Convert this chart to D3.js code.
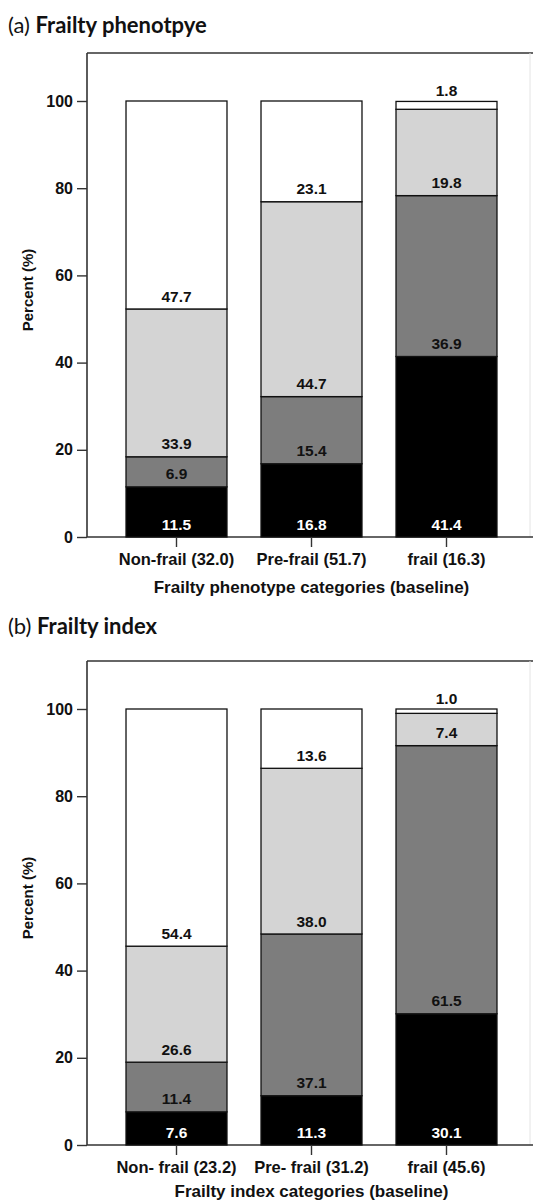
<!DOCTYPE html>
<html>
<head>
<meta charset="utf-8">
<script src="https://cdn.jsdelivr.net/npm/d3@7"></script>
<style>
  html, body { margin: 0; padding: 0; background: #fff; }
  svg { display: block; }
</style>
</head>
<body>
<svg id="chart" width="533" height="1204"></svg>
<script>
// ---- Data ----
const phenotypeCategories = ["Non-frail (32.0)", "Pre-frail (51.7)", "frail (16.3)"];
const phenotypeLevel1 = [11.5, 16.8, 41.4];   // black (bottom)
const phenotypeLevel2 = [6.9, 15.4, 36.9];    // dark grey
const phenotypeLevel3 = [33.9, 44.7, 19.8];   // light grey
const phenotypeLevel4 = [47.7, 23.1, 1.8];    // white (top)

const indexCategories = ["Non- frail (23.2)", "Pre- frail (31.2)", "frail (45.6)"];
const indexLevel1 = [7.6, 11.3, 30.1];
const indexLevel2 = [11.4, 37.1, 61.5];
const indexLevel3 = [26.6, 38.0, 7.4];
const indexLevel4 = [54.4, 13.6, 1.0];

const yTicks = [0, 20, 40, 60, 80, 100];
const levelKeys = ["l1", "l2", "l3", "l4"];
const levelColors = ["#000000", "#7d7d7d", "#d4d4d4", "#ffffff"];
const labelColors = ["#ffffff", "#111111", "#111111", "#111111"];

const panels = [
  { tag: "(a) ", title: "Frailty phenotpye", xTitle: "Frailty phenotype categories (baseline)",
    cats: phenotypeCategories, levels: [phenotypeLevel1, phenotypeLevel2, phenotypeLevel3, phenotypeLevel4],
    titleY: 33, frameTop: 53, y0: 537, y100: 101, xTitleGap: 50 },
  { tag: "(b) ", title: "Frailty index", xTitle: "Frailty index categories (baseline)",
    cats: indexCategories, levels: [indexLevel1, indexLevel2, indexLevel3, indexLevel4],
    titleY: 634, frameTop: 661, y0: 1145, y100: 709, xTitleGap: 46 }
];

const svg = d3.select("#chart");
const FONT = "'Liberation Sans', Arial, Helvetica, sans-serif";
const axisX = 87, rightX = 533;

panels.forEach(p => {
  const g = svg.append("g");

  // Title
  const t = g.append("text").attr("x", 8).attr("y", p.titleY)
    .style("font-family", "Lato, 'Open Sans', sans-serif").style("font-size", "22px").attr("fill", "#111");
  t.append("tspan").text(p.tag).style("font-weight", "400");
  t.append("tspan").text(p.title).style("font-weight", "700");

  const x = d3.scaleBand().domain(p.cats).range([109, 514]).paddingInner(0.252).paddingOuter(0.126);
  const y = d3.scaleLinear().domain([0, 100]).range([p.y0, p.y100]);

  const rows = p.cats.map((c, i) => {
    const r = { cat: c };
    levelKeys.forEach((k, j) => r[k] = p.levels[j][i]);
    return r;
  });
  const series = d3.stack().keys(levelKeys)(rows);

  // Frame
  g.append("line").attr("x1", axisX).attr("x2", rightX).attr("y1", p.frameTop).attr("y2", p.frameTop)
    .attr("stroke", "#333").attr("stroke-width", 1.6);
  g.append("line").attr("x1", 530).attr("x2", 530).attr("y1", p.frameTop).attr("y2", p.y0)
    .attr("stroke", "#e4e4e4").attr("stroke-width", 1);
  g.append("line").attr("x1", axisX).attr("x2", axisX).attr("y1", p.frameTop).attr("y2", p.y0)
    .attr("stroke", "#333").attr("stroke-width", 1.6);
  g.append("line").attr("x1", axisX).attr("x2", rightX).attr("y1", p.y0).attr("y2", p.y0)
    .attr("stroke", "#333").attr("stroke-width", 1.6);

  // Bars
  series.forEach((s, si) => {
    g.append("g").selectAll("rect").data(s).join("rect")
      .attr("x", d => x(d.data.cat))
      .attr("width", x.bandwidth())
      .attr("y", d => y(d[1]))
      .attr("height", d => y(d[0]) - y(d[1]))
      .attr("fill", levelColors[si])
      .attr("stroke", "#111").attr("stroke-width", 1.3);
  });

  // Value labels
  series.forEach((s, si) => {
    g.append("g").selectAll("text").data(s).join("text")
      .attr("x", d => x(d.data.cat) + x.bandwidth() / 2)
      .attr("y", d => (d[1] - d[0] < 3 && si === 3) ? y(100) - 11 : y(d[0]) - 13)
      .attr("dy", "0.36em")
      .attr("text-anchor", "middle")
      .style("font-family", FONT).style("font-weight", "700").style("font-size", "15.5px")
      .attr("fill", labelColors[si])
      .text(d => (d[1] - d[0]).toFixed(1));
  });

  // Y axis
  const yAxis = d3.axisLeft(y).tickValues(yTicks).tickSize(10).tickPadding(4).tickFormat(d3.format("d"));
  const ya = g.append("g").attr("transform", `translate(${axisX},0)`).call(yAxis);
  ya.select(".domain").remove();
  ya.selectAll(".tick line").attr("stroke", "#333").attr("stroke-width", 1.4);
  ya.selectAll(".tick text").style("font-family", FONT).style("font-weight", "700")
    .style("font-size", "16px").attr("fill", "#111");

  // X axis
  const xAxis = d3.axisBottom(x).tickSize(10).tickPadding(6);
  const xa = g.append("g").attr("transform", `translate(0,${p.y0})`).call(xAxis);
  xa.select(".domain").remove();
  xa.selectAll(".tick line").attr("stroke", "#333").attr("stroke-width", 1.4);
  xa.selectAll(".tick text").style("font-family", FONT).style("font-weight", "700")
    .style("font-size", "16.5px").attr("fill", "#111").attr("dy", "0.71em");

  // Axis titles
  g.append("text").attr("x", (109 + 514) / 2).attr("y", p.y0 + p.xTitleGap).attr("dy", "0.36em")
    .attr("text-anchor", "middle")
    .style("font-family", FONT).style("font-weight", "700").style("font-size", "17px").attr("fill", "#111")
    .text(p.xTitle);
  g.append("text")
    .attr("transform", `translate(28,${(p.y0 + p.frameTop) / 2 - 5}) rotate(-90)`)
    .attr("dy", "0.36em").attr("text-anchor", "middle")
    .style("font-family", FONT).style("font-weight", "700").style("font-size", "15px").attr("fill", "#111")
    .text("Percent (%)");
});
</script>
</body>
</html>
